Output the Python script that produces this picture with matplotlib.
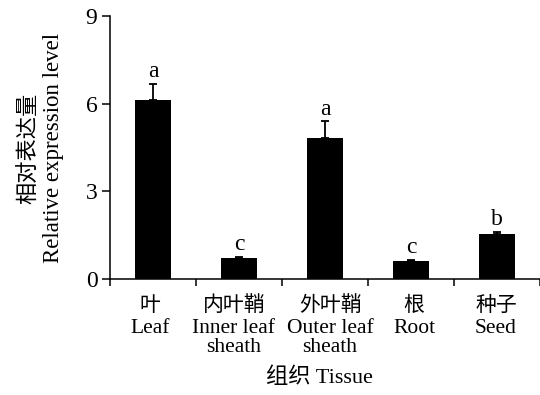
import matplotlib
matplotlib.use("Agg")
import matplotlib.pyplot as plt
import matplotlib.transforms as mtransforms
import numpy as np

categories_cn = ["叶", "内叶鞘", "外叶鞘", "根", "种子"]
categories_en = ["Leaf", "Inner leaf\nsheath", "Outer leaf\nsheath", "Root", "Seed"]
values = [6.14, 0.73, 4.81, 0.63, 1.55]
errors = [0.55, 0.03, 0.58, 0.02, 0.06]
letters = ["a", "c", "a", "c", "b"]
yticks = [0, 3, 6, 9]

serif = "Liberation Serif"
cjk = "Noto Sans CJK SC"
fam = [serif, cjk]
plt.rcParams["font.family"] = fam

fig = plt.figure(figsize=(5.4, 3.95), dpi=100)
ax = fig.add_axes([110/540, 1-279/395, 1-110/540, (279-16)/395])

x = np.arange(len(values))
ax.bar(x, values, width=0.43, color="black", zorder=2)
ax.errorbar(x, values, yerr=[np.zeros(len(errors)), errors], fmt="none",
            ecolor="black", elinewidth=1.3, capsize=3, capthick=1.3, zorder=3)
for xi, v, e, l in zip(x, values, errors, letters):
    ax.text(xi, v + e + 0.06, l, ha="center", va="bottom", fontsize=17, family=serif)

ax.set_xlim(-0.5, 4.5)
ax.set_ylim(0, 9)
ax.set_yticks(yticks)
ax.set_yticklabels([str(t) for t in yticks], fontsize=17, family=serif)
ax.set_xticks(np.arange(len(values) + 1) - 0.5)
ax.set_xticklabels([])
ax.tick_params(axis="x", which="major", direction="out", length=5, width=1.1)
ax.tick_params(axis="y", direction="out", length=6, width=1.1, pad=3)
for s in ["top", "right"]:
    ax.spines[s].set_visible(False)
for s in ["left", "bottom"]:
    ax.spines[s].set_linewidth(1.1)

# small horizontal nudges (pixels) of the category labels, as in the original layout
label_shift_px = [-3, -5, 5, 3, -1]
tr = ax.get_xaxis_transform()
for xi, c, e, dx in zip(x, categories_cn, categories_en, label_shift_px):
    t = tr + mtransforms.ScaledTranslation(dx / 100, 0, fig.dpi_scale_trans)
    ax.text(xi, -0.099, c, transform=t, ha="center", va="center",
            fontsize=15, family=cjk, fontweight="medium")
    ax.text(xi, -0.152, e, transform=t, ha="center", va="top",
            fontsize=15.5, family=serif, linespacing=1.0)

ax.text(0.486, -0.376, "组织 Tissue", transform=ax.transAxes, ha="center", va="center",
        fontsize=16, family=fam)

fig.text(29/540, 1-148/395, "相对表达量", rotation=90, ha="center", va="center",
         fontsize=16, family=cjk, fontweight="medium")
fig.text(54/540, 1-148/395, "Relative expression level", rotation=90, ha="center",
         va="center", fontsize=16.5, family=serif)

fig.savefig("out.png", dpi=100)
